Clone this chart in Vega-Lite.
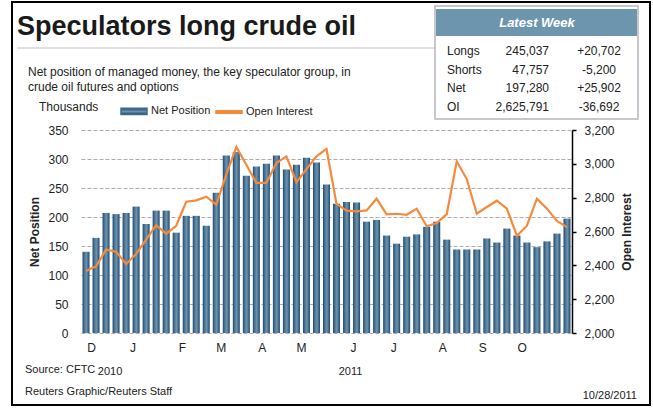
{
  "$schema": "https://vega.github.io/schema/vega-lite/v6.json",
  "width": 491,
  "height": 203,
  "autosize": "none",
  "padding": {"left": 81, "top": 130, "right": 81, "bottom": 76},
  "background": "white",
  "config": {
    "font": "Liberation Sans",
    "view": {"stroke": null},
    "axis": {"labelFont": "Liberation Sans", "labelFontSize": 12, "labelColor": "#222", "titleFont": "Liberation Sans", "titleFontSize": 12, "titleColor": "#222", "titleFontWeight": "bold"},
    "text": {"font": "Liberation Sans", "color": "#222"},
    "locale": {"number": {"decimal": ".", "thousands": ",", "grouping": [3], "currency": ["$", ""], "minus": "-"}}
  },
  "datasets": {
    "weekly": [
      {"week": "2010-11-23", "net": 140, "oi": 2366},
      {"week": "2010-11-30", "net": 164, "oi": 2394},
      {"week": "2010-12-07", "net": 207, "oi": 2493},
      {"week": "2010-12-14", "net": 205, "oi": 2481},
      {"week": "2010-12-21", "net": 207, "oi": 2408},
      {"week": "2010-12-28", "net": 218, "oi": 2467},
      {"week": "2011-01-04", "net": 188, "oi": 2552},
      {"week": "2011-01-11", "net": 211, "oi": 2638},
      {"week": "2011-01-18", "net": 211, "oi": 2587},
      {"week": "2011-01-25", "net": 173, "oi": 2634},
      {"week": "2011-02-01", "net": 202, "oi": 2776},
      {"week": "2011-02-08", "net": 202, "oi": 2784},
      {"week": "2011-02-15", "net": 185, "oi": 2806},
      {"week": "2011-02-22", "net": 242, "oi": 2759},
      {"week": "2011-03-01", "net": 306, "oi": 2936},
      {"week": "2011-03-08", "net": 312, "oi": 3100},
      {"week": "2011-03-15", "net": 271, "oi": 2995},
      {"week": "2011-03-22", "net": 287, "oi": 2887},
      {"week": "2011-03-29", "net": 292, "oi": 2887},
      {"week": "2011-04-05", "net": 306, "oi": 3005},
      {"week": "2011-04-12", "net": 282, "oi": 3044},
      {"week": "2011-04-19", "net": 290, "oi": 2891},
      {"week": "2011-04-26", "net": 302, "oi": 2969},
      {"week": "2011-05-03", "net": 294, "oi": 3044},
      {"week": "2011-05-10", "net": 256, "oi": 3088},
      {"week": "2011-05-17", "net": 223, "oi": 2763},
      {"week": "2011-05-24", "net": 226, "oi": 2723},
      {"week": "2011-05-31", "net": 225, "oi": 2719},
      {"week": "2011-06-07", "net": 192, "oi": 2725},
      {"week": "2011-06-14", "net": 195, "oi": 2794},
      {"week": "2011-06-21", "net": 168, "oi": 2702},
      {"week": "2011-06-28", "net": 154, "oi": 2705},
      {"week": "2011-07-05", "net": 166, "oi": 2699},
      {"week": "2011-07-12", "net": 170, "oi": 2735},
      {"week": "2011-07-19", "net": 183, "oi": 2631},
      {"week": "2011-07-26", "net": 192, "oi": 2650},
      {"week": "2011-08-02", "net": 161, "oi": 2703},
      {"week": "2011-08-09", "net": 144, "oi": 3015},
      {"week": "2011-08-16", "net": 144, "oi": 2910},
      {"week": "2011-08-23", "net": 144, "oi": 2705},
      {"week": "2011-08-30", "net": 163, "oi": 2745},
      {"week": "2011-09-06", "net": 156, "oi": 2782},
      {"week": "2011-09-13", "net": 180, "oi": 2735},
      {"week": "2011-09-20", "net": 168, "oi": 2575},
      {"week": "2011-09-27", "net": 156, "oi": 2634},
      {"week": "2011-10-04", "net": 148, "oi": 2794},
      {"week": "2011-10-11", "net": 158, "oi": 2735},
      {"week": "2011-10-18", "net": 171.378, "oi": 2662.483},
      {"week": "2011-10-25", "net": 197.28, "oi": 2625.791}
    ],
    "latest": [
      {"metric": "Longs", "position": 245037, "change": 20702},
      {"metric": "Shorts", "position": 47757, "change": -5200},
      {"metric": "Net", "position": 197280, "change": 25902},
      {"metric": "OI", "position": 2625791, "change": -36692}
    ],
    "years": [
      {"week": "2010-12-07", "year": "2010"},
      {"week": "2011-05-24", "year": "2011"}
    ]
  },
  "layer": [
    {
      "data": {"values": [{}]},
      "mark": {"type": "rect", "fill": "transparent", "stroke": "#000", "strokeWidth": 2},
      "encoding": {"x": {"value": -69}, "x2": {"value": 569}, "y": {"value": -128}, "y2": {"value": 275}}
    },
    {
      "data": {"values": [{}]},
      "mark": {"type": "rule", "stroke": "#c9bccb", "strokeWidth": 1},
      "encoding": {"x": {"value": -64}, "x2": {"value": 354}, "y": {"value": -82}}
    },
    {
      "data": {"values": [{}]},
      "mark": {"type": "rect", "fill": "white", "stroke": "#bbb3c0", "strokeWidth": 1.5},
      "encoding": {"x": {"value": 354}, "x2": {"value": 557}, "y": {"value": -124}, "y2": {"value": -11}}
    },
    {
      "data": {"values": [{}]},
      "mark": {"type": "rect", "fill": "#6d95ad"},
      "encoding": {"x": {"value": 355}, "x2": {"value": 556}, "y": {"value": -121}, "y2": {"value": -94}}
    },
    {
      "data": {"values": [{"label": "Latest Week"}]},
      "mark": {"type": "text", "color": "white", "fontSize": 13, "fontWeight": "bold", "fontStyle": "italic", "align": "center", "baseline": "middle", "x": 456, "y": -107},
      "encoding": {"text": {"field": "label"}}
    },
    {
      "data": {"values": [{"label": "Speculators long crude oil"}]},
      "mark": {"type": "text", "color": "#1a1a1a", "fontSize": 27, "fontWeight": "bold", "align": "left", "baseline": "alphabetic", "x": -64, "y": -95},
      "encoding": {"text": {"field": "label"}}
    },
    {
      "data": {"values": [{}]},
      "mark": {"type": "text", "fontSize": 12, "align": "left", "baseline": "alphabetic", "lineHeight": 15, "x": -53, "y": -54},
      "encoding": {"text": {"value": ["Net position of managed money, the key speculator group, in", "crude oil futures and options"]}}
    },
    {
      "data": {"values": [{"label": "Thousands"}]},
      "mark": {"type": "text", "fontSize": 12, "align": "left", "baseline": "middle", "x": -42, "y": -23},
      "encoding": {"text": {"field": "label"}}
    },
    {
      "data": {"values": [{"label": "Source: CFTC"}]},
      "mark": {"type": "text", "fontSize": 11, "align": "left", "baseline": "middle", "x": -56, "y": 240},
      "encoding": {"text": {"field": "label"}}
    },
    {
      "data": {"values": [{"label": "Reuters Graphic/Reuters Staff"}]},
      "mark": {"type": "text", "fontSize": 11, "align": "left", "baseline": "middle", "x": -56, "y": 262},
      "encoding": {"text": {"field": "label"}}
    },
    {
      "data": {"values": [{"label": "10/28/2011"}]},
      "mark": {"type": "text", "fontSize": 11, "align": "right", "baseline": "middle", "x": 556, "y": 266},
      "encoding": {"text": {"field": "label"}}
    },
    {
      "data": {"name": "years"},
      "mark": {"type": "text", "fontSize": 11, "align": "center", "baseline": "middle", "y": "height", "dy": 39, "dx": 4},
      "encoding": {
        "x": {"field": "week", "type": "ordinal"},
        "text": {"field": "year"}
      }
    },
    {
      "data": {"name": "weekly"},
      "mark": {
        "type": "bar",
        "color": {"gradient": "linear", "x1": 0, "y1": 0, "x2": 1, "y2": 0, "stops": [
          {"offset": 0, "color": "#1d4a70"},
          {"offset": 0.3, "color": "#4f7898"},
          {"offset": 0.55, "color": "#6f92ab"},
          {"offset": 0.8, "color": "#426c8e"},
          {"offset": 1, "color": "#1d4a70"}
        ]}
      },
      "encoding": {
        "x": {
          "field": "week", "type": "ordinal",
          "scale": {"paddingInner": 0.3, "paddingOuter": 0.15},
          "axis": {
            "values": ["2010-11-30", "2010-12-28", "2011-02-01", "2011-03-01", "2011-03-29", "2011-04-26", "2011-05-31", "2011-06-28", "2011-08-02", "2011-08-30", "2011-09-27"],
            "labelExpr": "substring(utcFormat(utcOffset('day', toDate(datum.value), 5), '%b'), 0, 1)",
            "labelAngle": 0, "domain": false, "ticks": false, "tickSize": 0, "labelPadding": 14, "title": null, "grid": false
          }
        },
        "y": {
          "field": "net", "type": "quantitative",
          "scale": {"domain": [0, 350], "nice": false},
          "axis": {
            "title": "Net Position", "values": [0, 50, 100, 150, 200, 250, 300, 350],
            "domain": false, "ticks": false, "tickSize": 0, "labelPadding": 13, "titlePadding": 6,
            "grid": true, "gridDash": [4, 2], "gridColor": "#b3a9b5", "gridWidth": 1
          }
        }
      }
    },
    {
      "data": {"name": "weekly"},
      "mark": {"type": "line", "strokeWidth": 2.2},
      "encoding": {
        "x": {"field": "week", "type": "ordinal"},
        "y": {
          "field": "oi", "type": "quantitative",
          "scale": {"domain": [2000, 3200], "nice": false, "zero": false},
          "axis": {
            "orient": "right", "title": "Open Interest", "titleAngle": 270,
            "values": [2000, 2200, 2400, 2600, 2800, 3000, 3200], "format": ",d",
            "grid": false, "domain": true, "domainColor": "#000", "domainWidth": 1.5,
            "ticks": true, "tickColor": "#000", "tickWidth": 1.5, "tickSize": 4,
            "labelPadding": 8, "titlePadding": 19
          }
        },
        "color": {
          "datum": "Open Interest",
          "scale": {"domain": ["Net Position", "Open Interest"], "range": ["#3f6a8c", "#f58a3c"]},
          "legend": {
            "orient": "none", "legendX": 39, "legendY": -33, "direction": "horizontal", "title": null,
            "labelFontSize": 11, "labelColor": "#222", "labelFont": "Liberation Sans",
            "symbolSize": 676, "labelOffset": 3, "columnPadding": 2,
            "encode": {
              "symbols": {
                "update": {
                  "shape": {"signal": "datum.value === 'Open Interest' ? 'M-1,-0.1H1V0.1H-1Z' : 'M-1,-0.24H1V0.24H-1Z'"},
                  "fill": [
                    {"test": "datum.value === 'Net Position'", "value": {"gradient": "linear", "x1": 0, "y1": 0, "x2": 0, "y2": 1, "stops": [
                      {"offset": 0, "color": "#1d4a70"},
                      {"offset": 0.5, "color": "#6f92ab"},
                      {"offset": 1, "color": "#1d4a70"}
                    ]}},
                    {"value": "#f58a3c"}
                  ],
                  "stroke": {"value": "transparent"},
                  "opacity": {"value": 1}
                }
              }
            }
          }
        }
      }
    },
    {
      "data": {"name": "latest"},
      "mark": {"type": "text", "fontSize": 12, "align": "left", "baseline": "middle", "x": 366},
      "encoding": {
        "y": {"field": "metric", "type": "ordinal", "scale": {"type": "point", "domain": ["Longs", "Shorts", "Net", "OI"], "range": [-79, -23], "padding": 0}, "axis": null},
        "text": {"field": "metric"}
      }
    },
    {
      "data": {"name": "latest"},
      "mark": {"type": "text", "fontSize": 12, "align": "right", "baseline": "middle", "x": 468},
      "encoding": {
        "y": {"field": "metric", "type": "ordinal", "scale": {"type": "point", "domain": ["Longs", "Shorts", "Net", "OI"], "range": [-79, -23], "padding": 0}, "axis": null},
        "text": {"field": "position", "type": "quantitative", "format": ","}
      }
    },
    {
      "data": {"name": "latest"},
      "mark": {"type": "text", "fontSize": 12, "align": "center", "baseline": "middle", "x": 518},
      "encoding": {
        "y": {"field": "metric", "type": "ordinal", "scale": {"type": "point", "domain": ["Longs", "Shorts", "Net", "OI"], "range": [-79, -23], "padding": 0}, "axis": null},
        "text": {"field": "change", "type": "quantitative", "format": "+,"}
      }
    }
  ],
  "resolve": {"scale": {"y": "independent"}}
}
